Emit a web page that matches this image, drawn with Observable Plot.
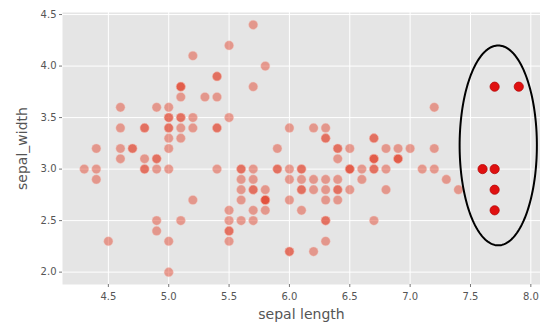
<!DOCTYPE html>
<html>
<head>
<meta charset="utf-8">
<script src="https://cdn.jsdelivr.net/npm/d3@7"></script>
<script src="https://cdn.jsdelivr.net/npm/@observablehq/plot@0.6"></script>
<style>
  html, body { margin: 0; padding: 0; background: #fff; }
  svg { display: block; }
</style>
</head>
<body>
<div id="chart"></div>
<script>
const sepalLength = [
  5.1,4.9,4.7,4.6,5.0,5.4,4.6,5.0,4.4,4.9,5.4,4.8,4.8,4.3,5.8,5.7,5.4,5.1,5.7,5.1,5.4,5.1,4.6,5.1,4.8,5.0,5.0,5.2,5.2,4.7,4.8,5.4,5.2,5.5,4.9,5.0,5.5,4.9,4.4,5.1,5.0,4.5,4.4,5.0,5.1,4.8,5.1,4.6,5.3,5.0,
  7.0,6.4,6.9,5.5,6.5,5.7,6.3,4.9,6.6,5.2,5.0,5.9,6.0,6.1,5.6,6.7,5.6,5.8,6.2,5.6,5.9,6.1,6.3,6.1,6.4,6.6,6.8,6.7,6.0,5.7,5.5,5.5,5.8,6.0,5.4,6.0,6.7,6.3,5.6,5.5,5.5,6.1,5.8,5.0,5.6,5.7,5.7,6.2,5.1,5.7,
  6.3,5.8,7.1,6.3,6.5,7.6,4.9,7.3,6.7,7.2,6.5,6.4,6.8,5.7,5.8,6.4,6.5,7.7,7.7,6.0,6.9,5.6,7.7,6.3,6.7,7.2,6.2,6.1,6.4,7.2,7.4,7.9,6.4,6.3,6.1,7.7,6.3,6.4,6.0,6.9,6.7,6.9,5.8,6.8,6.7,6.7,6.3,6.5,6.2,5.9
];
const sepalWidth = [
  3.5,3.0,3.2,3.1,3.6,3.9,3.4,3.4,2.9,3.1,3.7,3.4,3.0,3.0,4.0,4.4,3.9,3.5,3.8,3.8,3.4,3.7,3.6,3.3,3.4,3.0,3.4,3.5,3.4,3.2,3.1,3.4,4.1,4.2,3.1,3.2,3.5,3.6,3.0,3.4,3.5,2.3,3.2,3.5,3.8,3.0,3.8,3.2,3.7,3.3,
  3.2,3.2,3.1,2.3,2.8,2.8,3.3,2.4,2.9,2.7,2.0,3.0,2.2,2.9,2.9,3.1,3.0,2.7,2.2,2.5,3.2,2.8,2.5,2.8,2.9,3.0,2.8,3.0,2.9,2.6,2.4,2.4,2.7,2.7,3.0,3.4,3.1,2.3,3.0,2.5,2.6,3.0,2.6,2.3,2.7,3.0,2.9,2.9,2.5,2.8,
  3.3,2.7,3.0,2.9,3.0,3.0,2.5,2.9,2.5,3.6,3.2,2.7,3.0,2.5,2.8,3.2,3.0,3.8,2.6,2.2,3.2,2.8,2.8,2.7,3.3,3.2,2.8,3.0,2.8,3.0,2.8,3.8,2.8,2.8,2.6,3.0,3.4,3.1,3.0,3.1,3.1,3.1,2.7,3.2,3.3,3.0,2.5,3.0,3.4,3.0
];
const xTicks = [4.5, 5.0, 5.5, 6.0, 6.5, 7.0, 7.5, 8.0];
const yTicks = [2.0, 2.5, 3.0, 3.5, 4.0, 4.5];
const outlierThreshold = 7.5;
// annotation ellipse (data units)
const ellipseCenter = [7.73, 3.23];
const ellipseRadii = [0.32, 0.97];

const points = sepalLength.map((x, i) => ({x, y: sepalWidth[i]}));
const normal = points.filter(d => d.x <= outlierThreshold);
const outliers = points.filter(d => d.x > outlierThreshold);
const ellipse = d3.range(0, 201).map(i => {
  const t = (i / 200) * 2 * Math.PI;
  return {x: ellipseCenter[0] + ellipseRadii[0] * Math.cos(t), y: ellipseCenter[1] + ellipseRadii[1] * Math.sin(t)};
});

const tickFmt = d => d.toFixed(1);

const chart = Plot.plot({
  width: 540,
  height: 331,
  marginTop: 12,
  marginBottom: 47,
  marginLeft: 62,
  marginRight: 0,
  style: {fontFamily: "DejaVu Sans", fontSize: "10px", color: "#555", background: "#fff"},
  x: {domain: [4.12, 8.08]},
  y: {domain: [1.88, 4.52]},
  marks: [
    Plot.frame({fill: "#E5E5E5", stroke: "none"}),
    Plot.gridX(xTicks, {stroke: "#fff", strokeOpacity: 1, strokeWidth: 1}),
    Plot.gridY(yTicks, {stroke: "#fff", strokeOpacity: 1, strokeWidth: 1}),
    Plot.axisX(xTicks, {tickSize: 3, tickPadding: 5, stroke: "#777", fill: "#555", tickFormat: tickFmt,
      label: "sepal length", labelAnchor: "center", labelArrow: "none", labelOffset: 34, fontSize: 10}),
    Plot.axisY(yTicks, {tickSize: 3, tickPadding: 3, stroke: "#777", fill: "#555", tickFormat: tickFmt,
      label: "sepal_width", labelAnchor: "center", labelArrow: "none", labelOffset: 45, fontSize: 10}),
    Plot.dot(normal, {x: "x", y: "y", r: 4.6, fill: "#E24A33", fillOpacity: 0.5, stroke: "#f3c9c2", strokeOpacity: 0.6, strokeWidth: 0.7}),
    Plot.dot(outliers, {x: "x", y: "y", r: 4.6, fill: "#e01010", stroke: "#b40808", strokeWidth: 0.8}),
    Plot.line(ellipse, {x: "x", y: "y", stroke: "#000", strokeWidth: 2})
  ]
});
chart.querySelectorAll("[aria-label='x-axis label'] text, [aria-label='y-axis label'] text").forEach(t => t.style.fontSize = "14px");
document.getElementById("chart").append(chart);
</script>
</body>
</html>
